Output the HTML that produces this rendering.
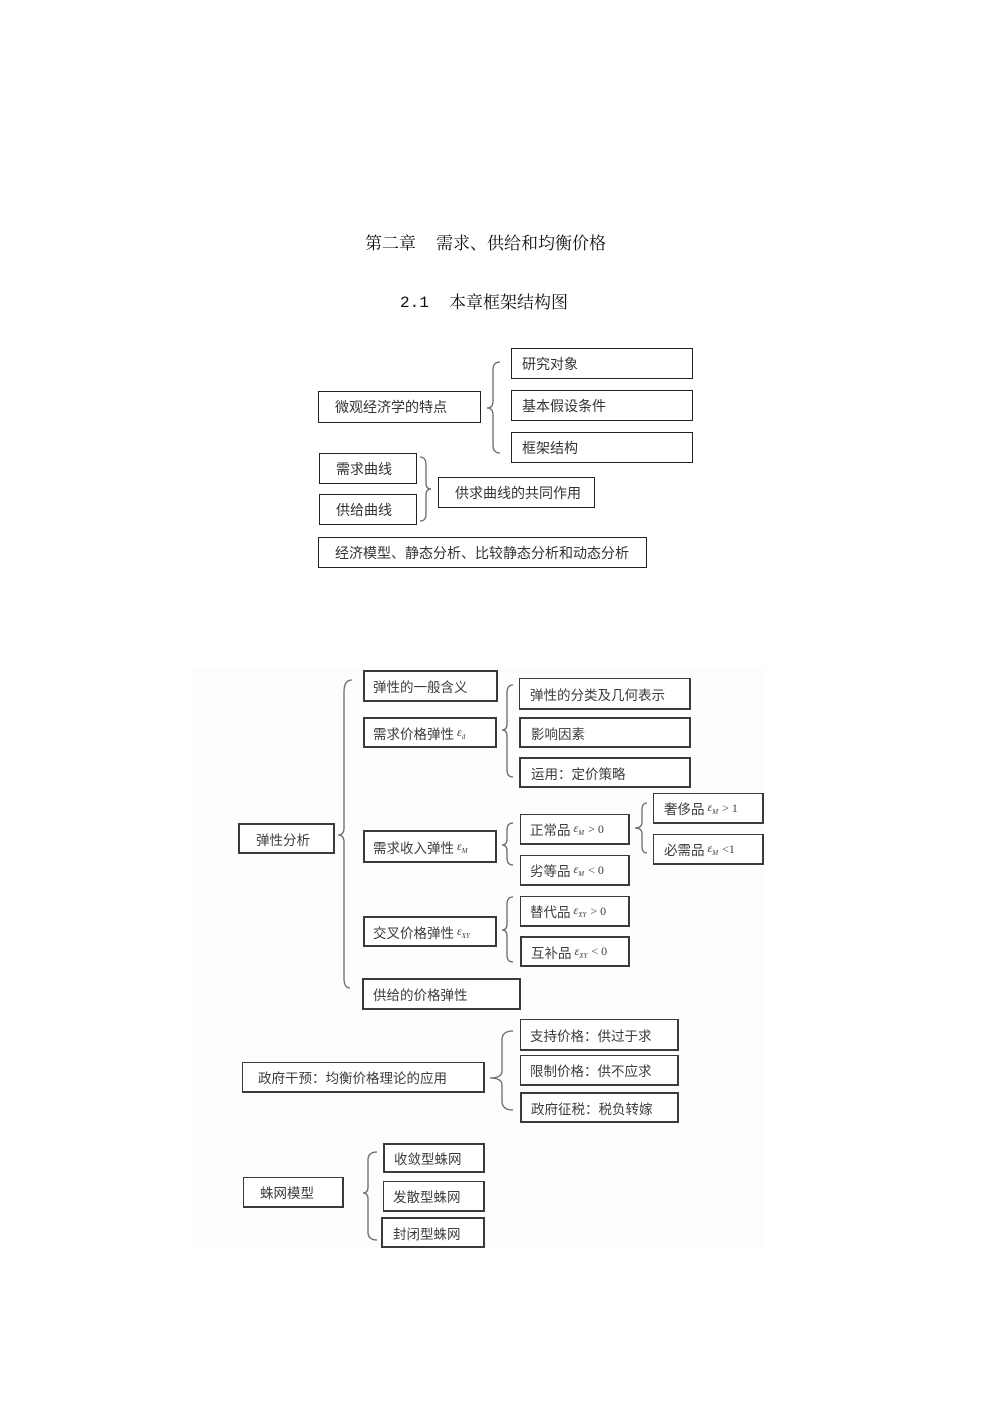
<!DOCTYPE html>
<html><head><meta charset="utf-8">
<style>
html,body{margin:0;padding:0;background:#fff;}
body{width:992px;height:1403px;position:relative;overflow:hidden;font-family:"Liberation Sans","Noto Sans CJK SC",sans-serif;}
.t{position:absolute;font-family:"Liberation Serif","Noto Serif CJK SC",serif;font-size:17px;color:#111;white-space:nowrap;line-height:20px;}
.b{position:absolute;box-sizing:border-box;border:1px solid #222;display:flex;align-items:center;font-size:14px;color:#333;white-space:nowrap;background:#fff;}
.l{border:2px solid #3a3a3a;color:#3c3c3c;font-size:13.5px;}
.e{font-family:"Liberation Serif",serif;font-style:italic;font-size:12px;margin-left:3px;}
.e sub{font-size:7px;vertical-align:-3px;}
.op{font-family:"Liberation Serif",serif;font-size:12px;margin-left:4px;}
svg{position:absolute;left:0;top:0;}
</style></head><body>
<div style="position:absolute;left:190px;top:667px;width:575px;height:583px;background:#fdfdfd;"></div>

<div class="t" style="left:365px;top:234px;">第二章</div>
<div class="t" style="left:436px;top:234px;">需求、供给和均衡价格</div>
<div class="t" style="left:400px;top:293px;font-family:'Liberation Mono',monospace;font-size:16px;">2.1</div>
<div class="t" style="left:449px;top:293px;">本章框架结构图</div>

<!-- top diagram -->
<div class="b" style="left:318px;top:391px;width:163px;height:32px;padding-left:16px;">微观经济学的特点</div>
<div class="b" style="left:511px;top:348px;width:182px;height:31px;padding-left:10px;">研究对象</div>
<div class="b" style="left:511px;top:390px;width:182px;height:31px;padding-left:10px;">基本假设条件</div>
<div class="b" style="left:511px;top:432px;width:182px;height:31px;padding-left:10px;">框架结构</div>
<div class="b" style="left:319px;top:453px;width:98px;height:31px;padding-left:16px;">需求曲线</div>
<div class="b" style="left:319px;top:494px;width:98px;height:31px;padding-left:16px;">供给曲线</div>
<div class="b" style="left:438px;top:477px;width:157px;height:31px;padding-left:16px;">供求曲线的共同作用</div>
<div class="b" style="left:318px;top:537px;width:329px;height:31px;padding-left:16px;">经济模型、静态分析、比较静态分析和动态分析</div>

<!-- lower diagram -->
<div class="b l" style="left:238px;top:823px;width:97px;height:31px;padding-left:16px;">弹性分析</div>
<div class="b l" style="left:363px;top:670px;width:135px;height:32px;padding-left:8px;">弹性的一般含义</div>
<div class="b l" style="left:363px;top:717px;width:134px;height:31px;padding-left:8px;">需求价格弹性<span class="e">ε<sub>d</sub></span></div>
<div class="b l" style="left:363px;top:830px;width:134px;height:33px;padding-left:8px;">需求收入弹性<span class="e">ε<sub>M</sub></span></div>
<div class="b l" style="left:363px;top:916px;width:134px;height:31px;padding-left:8px;">交叉价格弹性<span class="e">ε<sub>XY</sub></span></div>
<div class="b l" style="left:362px;top:978px;width:159px;height:32px;padding-left:9px;">供给的价格弹性</div>

<div class="b l" style="left:519px;top:678px;width:172px;height:32px;padding-left:10px;border-width:1px 2px 2px 1px;">弹性的分类及几何表示</div>
<div class="b l" style="left:519px;top:717px;width:172px;height:31px;padding-left:10px;">影响因素</div>
<div class="b l" style="left:519px;top:757px;width:172px;height:31px;padding-left:10px;">运用：定价策略</div>

<div class="b l" style="left:520px;top:814px;width:110px;height:31px;padding-left:9px;border-width:1px 2px 2px 1px;">正常品<span class="e">ε<sub>M</sub></span><span class="op">&gt; 0</span></div>
<div class="b l" style="left:520px;top:855px;width:110px;height:31px;padding-left:9px;border-width:1px 2px 2px 1px;">劣等品<span class="e">ε<sub>M</sub></span><span class="op">&lt; 0</span></div>
<div class="b l" style="left:653px;top:793px;width:111px;height:31px;padding-left:10px;border-width:1px 2px 2px 1px;">奢侈品<span class="e">ε<sub>M</sub></span><span class="op">&gt; 1</span></div>
<div class="b l" style="left:653px;top:834px;width:111px;height:31px;padding-left:10px;border-width:1px 2px 2px 1px;">必需品<span class="e">ε<sub>M</sub></span><span class="op">&lt;1</span></div>
<div class="b l" style="left:520px;top:896px;width:110px;height:31px;padding-left:9px;border-width:1px 2px 2px 1px;">替代品<span class="e">ε<sub>XY</sub></span><span class="op">&gt; 0</span></div>
<div class="b l" style="left:520px;top:936px;width:110px;height:31px;padding-left:9px;">互补品<span class="e">ε<sub>XY</sub></span><span class="op">&lt; 0</span></div>

<div class="b l" style="left:242px;top:1062px;width:243px;height:31px;padding-left:15px;border-width:1px 2px 2px 1px;">政府干预：均衡价格理论的应用</div>
<div class="b l" style="left:520px;top:1019px;width:159px;height:32px;padding-left:9px;border-width:1px 2px 2px 1px;">支持价格：供过于求</div>
<div class="b l" style="left:520px;top:1055px;width:159px;height:31px;padding-left:9px;border-width:1px 2px 2px 1px;">限制价格：供不应求</div>
<div class="b l" style="left:520px;top:1092px;width:159px;height:31px;padding-left:9px;">政府征税：税负转嫁</div>

<div class="b l" style="left:243px;top:1177px;width:101px;height:31px;padding-left:16px;border-width:1px 2px 2px 1px;">蛛网模型</div>
<div class="b l" style="left:383px;top:1143px;width:102px;height:30px;padding-left:9px;">收敛型蛛网</div>
<div class="b l" style="left:383px;top:1181px;width:102px;height:31px;padding-left:9px;border-width:1px 2px 2px 1px;">发散型蛛网</div>
<div class="b l" style="left:381px;top:1217px;width:104px;height:31px;padding-left:10px;">封闭型蛛网</div>

<svg width="992" height="1403" viewBox="0 0 992 1403" fill="none" stroke="#6a6a6a" stroke-width="1.3">
<path d="M500 362 Q493 362 493 370 L493 401 Q493 408 487 408 Q493 408 493 415 L493 445 Q493 453 500 453"/>
<path d="M352 680 Q344 680 344 692 L344 828 Q344 835 338 835 Q344 835 344 842 L344 978 Q344 988 350 988"/>
<path d="M513 685 Q507 685 507 693 L507 724 Q507 730 502 730 Q507 730 507 736 L507 770 Q507 777 513 777"/>
<path d="M513 823 Q507 823 507 830 L507 839 Q507 845 502 845 Q507 845 507 851 L507 858 Q507 865 513 865"/>
<path d="M647 803 Q642 803 642 810 L642 822 Q642 828 635 828 Q642 828 642 834 L642 846 Q642 853 647 853"/>
<path d="M513 897 Q507 897 507 904 L507 924 Q507 930 502 930 Q507 930 507 936 L507 955 Q507 962 513 962"/>
<path d="M513 1031 Q502 1031 502 1040 L502 1071 Q502 1078 490 1078 Q502 1078 502 1085 L502 1101 Q502 1110 513 1110"/>
<path d="M377 1152 Q368 1152 368 1160 L368 1187 Q368 1193 363 1193 Q368 1193 368 1199 L368 1232 Q368 1240 377 1240"/>
<path d="M420 457 Q426 457 426 465 L426 483 Q426 489 431 489 Q426 489 426 495 L426 514 Q426 521 420 521"/>
</svg>
</body></html>
